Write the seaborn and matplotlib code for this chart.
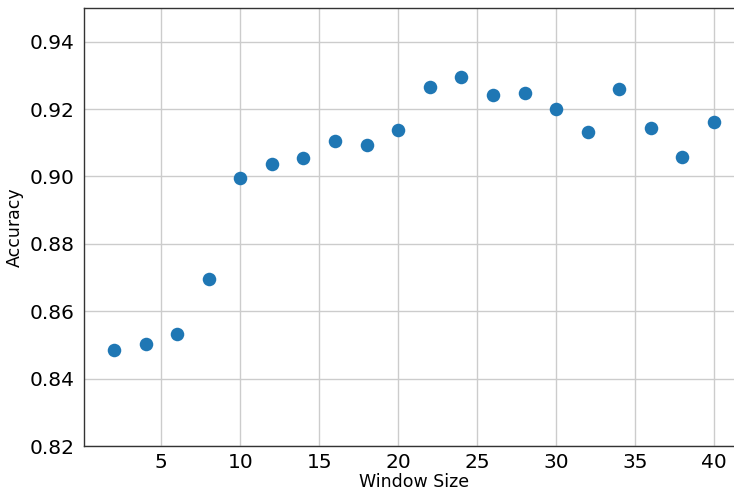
import matplotlib
matplotlib.use("Agg")
import matplotlib.pyplot as plt
import seaborn as sns
import pandas as pd

window_sizes = [2, 4, 6, 8, 10, 12, 14, 16, 18, 20, 22, 24, 26, 28, 30, 32, 34, 36, 38, 40]
accuracy = [0.8484, 0.8502, 0.8532, 0.8695, 0.8994, 0.9036, 0.9056, 0.9104, 0.9092, 0.9139,
            0.9267, 0.9296, 0.9243, 0.9249, 0.9199, 0.9133, 0.9261, 0.9145, 0.9059, 0.9163]
y_ticks = [0.82, 0.84, 0.86, 0.88, 0.90, 0.92, 0.94]
x_ticks = [5, 10, 15, 20, 25, 30, 35, 40]

df = pd.DataFrame({"Window Size": window_sizes, "Accuracy": accuracy})

sns.set_style("white")
plt.rcParams['font.family'] = ['DejaVu Sans']

fig = plt.figure(figsize=(7.34, 4.92), dpi=100)
ax = fig.add_axes([84 / 734, 46 / 492, 660 / 734, 438 / 492])

sns.scatterplot(data=df, x="Window Size", y="Accuracy", ax=ax, s=95,
                color="#1f77b4", linewidth=0, zorder=3)

ax.set_xlim(0.1, 41.9)
ax.set_ylim(0.82, 0.95)
ax.set_yticks(y_ticks)
ax.set_yticklabels([f"{v:.2f}" for v in y_ticks])
ax.set_xticks(x_ticks)
ax.grid(True, color="#cccccc", linewidth=1.0, zorder=0)
ax.set_axisbelow(True)
ax.tick_params(axis="both", labelsize=14.5, colors="black")
ax.tick_params(axis="x", length=0, pad=5)
ax.tick_params(axis="y", length=5, width=1, color="#333333", pad=2)
for side in ["left", "top", "bottom", "right"]:
    ax.spines[side].set_color("#333333")
    ax.spines[side].set_linewidth(1.0)
ax.set_xlabel("Window Size", fontsize=12.5, labelpad=1, color="black")
ax.set_ylabel("Accuracy", fontsize=12.5, labelpad=4, color="black")

fig.savefig("out.png", dpi=100)
